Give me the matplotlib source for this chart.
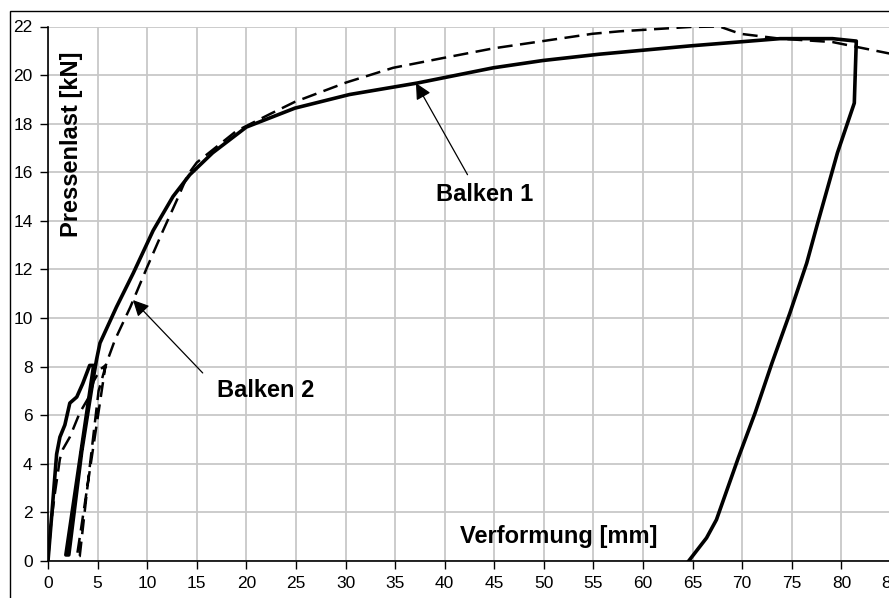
import matplotlib.pyplot as plt
from matplotlib.patches import Rectangle

# Balken 1: Erstbelastung, Entlastung, Wiederbelastung, Bruch und Entlastung
b1_x = [0, 0.4, 0.87, 1.2, 1.7, 2.2, 2.9, 3.5, 4.2, 4.6,
        1.8,
        2.1, 3.4, 4.6, 4.9, 5.24, 6.9, 8.6, 10.6, 12.6, 14.3, 16.6, 20.0,
        24.9, 30.4, 37.2, 44.9, 49.9, 55.6, 64.7, 73.8, 79.1, 81.5,
        81.3, 79.6, 77.6, 76.5, 74.8, 73.0, 71.3, 69.6, 67.4, 66.4, 64.6]
b1_y = [0, 2.0, 4.4, 5.1, 5.6, 6.5, 6.75, 7.3, 8.05, 8.05,
        0.25,
        0.25, 4.5, 7.6, 8.3, 8.97, 10.45, 11.85, 13.6, 15.0, 15.9, 16.8, 17.86,
        18.64, 19.2, 19.67, 20.3, 20.6, 20.86, 21.2, 21.5, 21.5, 21.4,
        18.85, 16.8, 13.9, 12.26, 10.2, 8.15, 6.1, 4.24, 1.7, 0.95, 0]

# Balken 2
b2_x = [0, 0.3, 0.7, 1.2, 1.5, 2.2, 3.2, 4.2, 4.6, 5.3, 5.8,
        2.9,
        3.2, 4.1, 5.1, 5.9, 6.75, 8.3, 10.0, 11.6, 13.0, 14.1, 15.0,
        19.0, 22.4, 24.9, 30.1, 34.8, 39.8, 44.9, 49.9, 54.9, 57.6,
        64.7, 67.7, 69.8, 73.8, 79.1, 84.7, 86]
b2_y = [0, 1.5, 2.8, 4.2, 4.6, 5.1, 6.1, 6.8, 7.4, 7.9, 8.05,
        0.15,
        0.2, 3.5, 7.0, 8.15, 9.1, 10.45, 12.1, 13.6, 14.86, 15.9, 16.4,
        17.7, 18.4, 18.9, 19.7, 20.3, 20.7, 21.1, 21.4, 21.7, 21.8,
        21.98, 22.0, 21.7, 21.5, 21.36, 20.9, 20.8]

x_ticks = list(range(0, 90, 5))
y_ticks = list(range(0, 24, 2))

# Beschriftungen mit Pfeil: (Text, Textposition, Pfeilanfang, Pfeilspitze)
labels = [
    ('Balken 1', (44.0, 15.1), (42.3, 15.9), (37.1, 19.67)),
    ('Balken 2', (21.9, 7.0), (15.6, 7.74), (8.57, 10.74)),
]

plt.rcParams['font.family'] = ['Liberation Sans', 'DejaVu Sans']

fig = plt.figure(figsize=(8.89, 5.98), dpi=100)
ax = fig.add_axes([48/889, 37/598, 843/889, 534.5/598])

ax.plot(b1_x, b1_y, color='black', lw=2.6, solid_joinstyle='round')
ax.plot(b2_x, b2_y, color='black', lw=1.8, dashes=(6, 3))

ax.set_xlim(0, 85)
ax.set_ylim(0, 22)
ax.set_xticks(x_ticks)
ax.set_yticks(y_ticks)
ax.grid(True, color='#c8c8c8', lw=1.3)
ax.set_axisbelow(True)
for s in ['top', 'right']:
    ax.spines[s].set_visible(False)
ax.spines['left'].set_linewidth(1.2)
ax.spines['bottom'].set_linewidth(1.2)
ax.tick_params(direction='out', length=6, width=1, labelsize=12.5, pad=5)

for txt, pos, tail, tip in labels:
    ax.text(pos[0], pos[1], txt, fontsize=17, fontweight='bold',
            ha='center', va='center')
    ax.annotate('', xy=tip, xytext=tail,
                arrowprops=dict(arrowstyle='-|>', color='black', lw=0.9,
                                mutation_scale=24, shrinkA=0, shrinkB=0))

ax.text(51.5, 1.0, 'Verformung [mm]', fontsize=17, fontweight='bold',
        ha='center', va='center')
ax.text(2.4, 17.15, 'Pressenlast [kN]', fontsize=17, fontweight='bold',
        ha='center', va='center', rotation=90)

# Rahmen um das Diagramm
fig.patches.append(Rectangle((10/889, -0.05), 1.0, 1.05 - 11/598,
                             transform=fig.transFigure, fill=False,
                             edgecolor='black', lw=1.0))

fig.savefig('out.png', dpi=100)
